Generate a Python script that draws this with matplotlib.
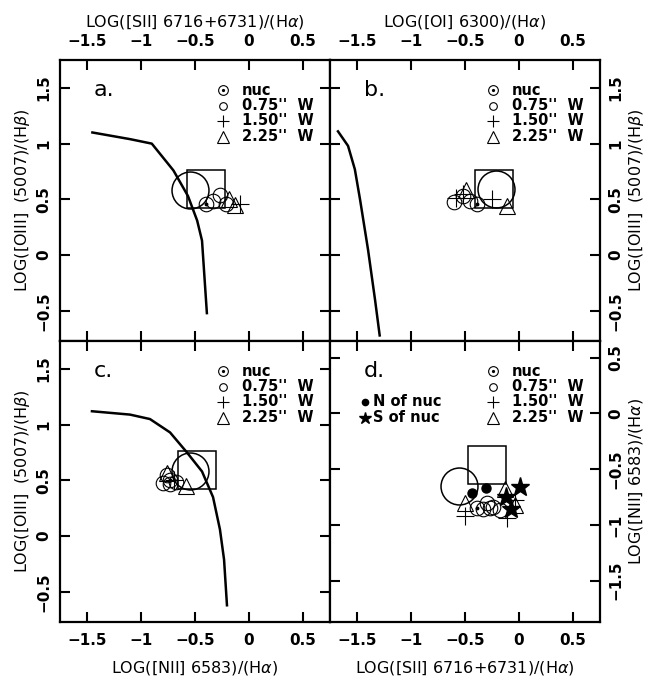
"""Emission-line diagnostic diagrams (four panels) for the nucleus and off-nuclear
apertures, with the H II / AGN boundary curves."""

import matplotlib
matplotlib.use("Agg")
import matplotlib.pyplot as plt
from matplotlib.ticker import FixedLocator, FuncFormatter

plt.rcParams["font.family"] = ["DejaVu Sans"]
plt.rcParams["mathtext.fontset"] = "dejavusans"

# ---- boundary curves ----
curve_a_x = [-1.45, -1.10, -0.90, -0.70, -0.565, -0.48, -0.435, -0.39]
curve_a_y = [1.10, 1.04, 1.00, 0.76, 0.53, 0.31, 0.13, -0.52]
curve_b_x = [-1.676, -1.583, -1.52, -1.472, -1.398, -1.333, -1.29]
curve_b_y = [1.11, 0.98, 0.77, 0.50, 0.05, -0.40, -0.72]
curve_c_x = [-1.454, -1.102, -0.917, -0.731, -0.574, -0.435, -0.333, -0.269, -0.231, -0.204]
curve_c_y = [1.12, 1.09, 1.05, 0.93, 0.75, 0.58, 0.35, 0.06, -0.21, -0.62]

# ---- integrated (big circle) and box points per panel ----
big_circle = {"a": (-0.546, 0.58), "b": (-0.213, 0.59), "c": (-0.542, 0.58), "d": (-0.556, -0.65)}
big_box = {"a": (-0.398, 0.59), "b": (-0.231, 0.59), "c": (-0.477, 0.59), "d": (-0.296, -0.46)}

# ---- aperture points: nuc / 0.75" W / 1.50" W / 2.25" W ----
nuc_a = ([-0.40], [0.46])
w075_a = ([-0.33, -0.27, -0.21], [0.49, 0.54, 0.46])
w150_a = ([-0.08], [0.46])
w225_a = ([-0.185, -0.13], [0.50, 0.45])

nuc_b = ([-0.39], [0.46])
w075_b = ([-0.60, -0.52, -0.45], [0.48, 0.53, 0.49])
w150_b = ([-0.58, -0.52, -0.25], [0.51, 0.55, 0.50])
w225_b = ([-0.49, -0.11], [0.58, 0.44])

nuc_c = ([-0.73], [0.50])
w075_c = ([-0.80, -0.73, -0.68, -0.76], [0.48, 0.47, 0.49, 0.55])
w150_c = ([-0.69], [0.50])
w225_c = ([-0.76, -0.58], [0.57, 0.45])

nuc_d = ([-0.39], [-0.85])
w075_d = ([-0.33, -0.27, -0.24, -0.18, -0.30], [-0.86, -0.85, -0.84, -0.87, -0.80])
w150_d = ([-0.50, -0.11, -0.04], [-0.92, -0.94, -0.78])
w225_d = ([-0.50, -0.13, -0.04], [-0.80, -0.68, -0.82])
north_d = ([-0.435, -0.306], [-0.71, -0.667])
south_d = ([0.009, -0.12, -0.074], [-0.658, -0.75, -0.856])

xlabel_sii = r"LOG([SII] 6716+6731)/(H$\alpha$)"
xlabel_oi = r"LOG([OI] 6300)/(H$\alpha$)"
xlabel_nii = r"LOG([NII] 6583)/(H$\alpha$)"
ylabel_oiii = r"LOG([OIII]  (5007)/(H$\beta$)"
ylabel_nii = r"LOG([NII] 6583)/(H$\alpha$)"

xticks = [-1.5, -1, -0.5, 0, 0.5]
yticks_oiii = [-0.5, 0, 0.5, 1, 1.5]
yticks_nii = [-1.5, -1, -0.5, 0, 0.5]
legend_labels = ["nuc", "0.75''  W", "1.50''  W", "2.25''  W"]


def fmt(v, _):
    return f"{v:g}".replace("-", "\u2212")


fig = plt.figure(figsize=(6.47, 6.81), dpi=100)
W, H = 270 / 647, 281 / 681
L0, L1 = 60 / 647, 330 / 647
B0, B1 = 59 / 681, 340 / 681
ax_a = fig.add_axes([L0, B1, W, H])
ax_b = fig.add_axes([L1, B1, W, H])
ax_c = fig.add_axes([L0, B0, W, H])
ax_d = fig.add_axes([L1, B0, W, H])

label_font = dict(fontsize=11.5)


def style(ax, yticks, ylim, top=False, bottom=False, left=False, right=False):
    ax.set_xlim(-1.75, 0.75)
    ax.set_ylim(*ylim)
    for s in ax.spines.values():
        s.set_linewidth(1.6)
    ax.xaxis.set_major_locator(FixedLocator(xticks))
    ax.yaxis.set_major_locator(FixedLocator(yticks))
    ax.xaxis.set_major_formatter(FuncFormatter(fmt))
    ax.yaxis.set_major_formatter(FuncFormatter(fmt))
    ax.tick_params(direction="in", length=7, width=1.5, top=True, bottom=True,
                   left=True, right=True, labeltop=top, labelbottom=bottom,
                   labelleft=left, labelright=right)
    ax.tick_params(axis="x", pad=8)
    ax.tick_params(axis="y", pad=6)
    for lab in ax.get_xticklabels() + ax.get_yticklabels():
        lab.set_fontsize(11)
        lab.set_fontweight("bold")
    for lab in ax.get_yticklabels():
        lab.set_rotation(90)
        lab.set_va("center")


def points(ax, nuc, w075, w150, w225):
    ax.plot(*w075, "o", ms=10.5, mfc="none", mec="black", mew=0.8, ls="none")
    ax.plot(*w150, "+", ms=13, mec="black", mew=0.8, ls="none")
    ax.plot(*w225, "^", ms=11, mfc="none", mec="black", mew=0.8, ls="none")
    ax.plot(*nuc, "o", ms=10.5, mfc="none", mec="black", mew=0.8, ls="none")
    ax.plot(*nuc, "o", ms=1.8, color="black", ls="none")


def big(ax, key):
    ax.plot(*big_circle[key], "o", ms=26.6, mfc="none", mec="black", mew=1.1)
    ax.plot(*big_box[key], "s", ms=27.4, mfc="none", mec="black", mew=1.1)


def legend(ax, x_sym=0.604, x_txt=0.675, rows=(0.893, 0.838, 0.783, 0.726)):
    kw = dict(transform=ax.transAxes, clip_on=False, ls="none", color="black")
    ax.plot(x_sym, rows[0], "o", ms=7, mfc="none", mew=0.8, **kw)
    ax.plot(x_sym, rows[0], "o", ms=1.3, **kw)
    ax.plot(x_sym, rows[1], "o", ms=5.5, mfc="none", mew=0.8, **kw)
    ax.plot(x_sym, rows[2], "+", ms=9, mew=0.8, **kw)
    ax.plot(x_sym, rows[3], "^", ms=8, mfc="none", mew=0.8, **kw)
    for y, t in zip(rows, legend_labels):
        ax.text(x_txt, y, t, transform=ax.transAxes, ha="left", va="center",
                fontsize=10.5, fontweight="bold")


def panel_tag(ax, tag):
    ax.text(0.125, 0.895, tag, transform=ax.transAxes, ha="left", va="center",
            fontsize=16)


ylim_oiii = (-0.77, 1.75)
ylim_nii = (-1.87, 0.65)

# a: [SII]/Ha vs [OIII]/Hb
style(ax_a, yticks_oiii, ylim_oiii, top=True, left=True)
ax_a.plot(curve_a_x, curve_a_y, color="black", lw=1.8)
big(ax_a, "a")
points(ax_a, nuc_a, w075_a, w150_a, w225_a)
legend(ax_a)
panel_tag(ax_a, "a.")
ax_a.xaxis.set_label_position("top")
ax_a.set_xlabel(xlabel_sii, labelpad=5, **label_font)
ax_a.set_ylabel(ylabel_oiii, labelpad=3, **label_font)

# b: [OI]/Ha vs [OIII]/Hb
style(ax_b, yticks_oiii, ylim_oiii, top=True, right=True)
ax_b.plot(curve_b_x, curve_b_y, color="black", lw=1.8)
big(ax_b, "b")
points(ax_b, nuc_b, w075_b, w150_b, w225_b)
legend(ax_b)
panel_tag(ax_b, "b.")
ax_b.xaxis.set_label_position("top")
ax_b.yaxis.set_label_position("right")
ax_b.set_xlabel(xlabel_oi, labelpad=5, **label_font)
ax_b.set_ylabel(ylabel_oiii, labelpad=3, rotation=90, **label_font)

# c: [NII]/Ha vs [OIII]/Hb
style(ax_c, yticks_oiii, ylim_oiii, bottom=True, left=True)
ax_c.plot(curve_c_x, curve_c_y, color="black", lw=1.8)
big(ax_c, "c")
points(ax_c, nuc_c, w075_c, w150_c, w225_c)
legend(ax_c)
panel_tag(ax_c, "c.")
ax_c.set_xlabel(xlabel_nii, labelpad=8, **label_font)
ax_c.set_ylabel(ylabel_oiii, labelpad=3, **label_font)

# d: [SII]/Ha vs [NII]/Ha
style(ax_d, yticks_nii, ylim_nii, bottom=True, right=True)
big(ax_d, "d")
points(ax_d, nuc_d, w075_d, w150_d, w225_d)
ax_d.plot(*north_d, "o", ms=6.5, color="black", ls="none")
ax_d.plot(*south_d, "*", ms=14, color="black", ls="none")
legend(ax_d)
panel_tag(ax_d, "d.")
kw = dict(transform=ax_d.transAxes, clip_on=False, ls="none", color="black")
ax_d.plot(0.13, 0.783, "o", ms=4.5, **kw)
ax_d.plot(0.13, 0.726, "*", ms=9, **kw)
ax_d.text(0.16, 0.783, "N of nuc", transform=ax_d.transAxes, ha="left",
          va="center", fontsize=10.5, fontweight="bold")
ax_d.text(0.16, 0.726, "S of nuc", transform=ax_d.transAxes, ha="left",
          va="center", fontsize=10.5, fontweight="bold")
ax_d.yaxis.set_label_position("right")
ax_d.set_xlabel(xlabel_sii, labelpad=8, **label_font)
ax_d.set_ylabel(ylabel_nii, labelpad=3, rotation=90, **label_font)

fig.savefig("out.png", dpi=100, facecolor="white")
